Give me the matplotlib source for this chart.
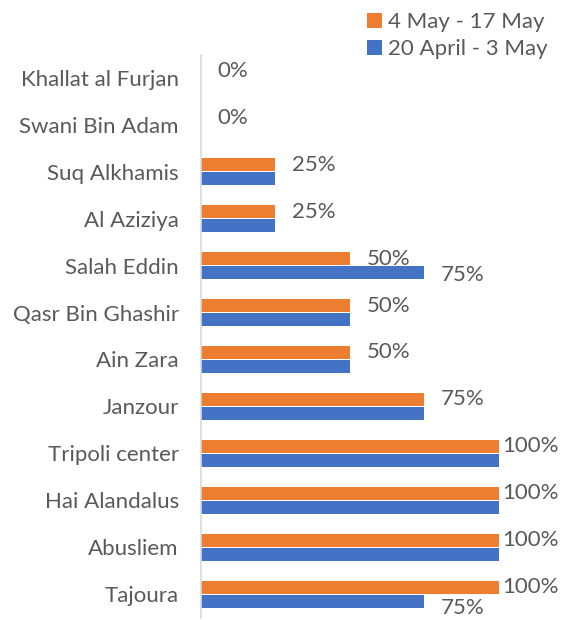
import matplotlib
matplotlib.use("Agg")
import matplotlib.pyplot as plt
import numpy as np

categories = ["Khallat al Furjan", "Swani Bin Adam", "Suq Alkhamis", "Al Aziziya",
              "Salah Eddin", "Qasr Bin Ghashir", "Ain Zara", "Janzour",
              "Tripoli center", "Hai Alandalus", "Abusliem", "Tajoura"]
may_4_17 = [0, 0, 25, 25, 50, 50, 50, 75, 100, 100, 100, 100]
apr20_may3 = [0, 0, 25, 25, 75, 50, 50, 75, 100, 100, 100, 75]
series_names = ["4 May - 17 May", "20 April - 3 May"]

ORANGE = "#ED7D31"
BLUE = "#4472C4"
TXT = "#595959"
FONT = "Lato"
FS = 16

fig = plt.figure(figsize=(5.63, 6.2), dpi=100)
ax = fig.add_axes([201/563, 2.5/620, 357/563, 563/620])

y = np.arange(len(categories))
h = 0.277
off = 0.149
ax.barh(y - off, [v/100 for v in may_4_17], height=h, color=ORANGE, label=series_names[0])
ax.barh(y + off, [v/100 for v in apr20_may3], height=h, color=BLUE, label=series_names[1])

ax.set_xlim(0, 1.2)
ax.set_ylim(len(categories) - 0.5, -0.5)
ax.set_yticks(y)
ax.set_yticklabels(categories, fontsize=FS, color=TXT, family=FONT)
ax.tick_params(axis="y", length=0, pad=16)
ax.set_xticks([])
for s in ["top", "right", "bottom"]:
    ax.spines[s].set_visible(False)
ax.spines["left"].set_color("#D9D9D9")
ax.spines["left"].set_linewidth(1.2)

for i, (o, b) in enumerate(zip(may_4_17, apr20_may3)):
    dx = 3 if o == 100 else 12
    ax.annotate(f"{o}%", (o/100, i - off), xytext=(dx, 0), textcoords="offset points",
                ha="left", va="center", fontsize=FS, color=TXT, family=FONT)
    if b != o:
        dxb = 3 if b == 100 else 12
        dy = -5 if i == len(categories) - 1 else -2
        ax.annotate(f"{b}%", (b/100, i + off), xytext=(dxb, dy), textcoords="offset points",
                    ha="left", va="center", fontsize=FS, color=TXT, family=FONT)

leg = fig.legend(loc="upper right", bbox_to_anchor=(0.995, 1.0), frameon=False,
                 prop={"family": FONT, "size": FS}, handlelength=0.65, handleheight=0.65,
                 handletextpad=0.3, labelspacing=0.3, borderaxespad=0.15)
for t in leg.get_texts():
    t.set_color(TXT)

fig.savefig("out.png", dpi=100)
